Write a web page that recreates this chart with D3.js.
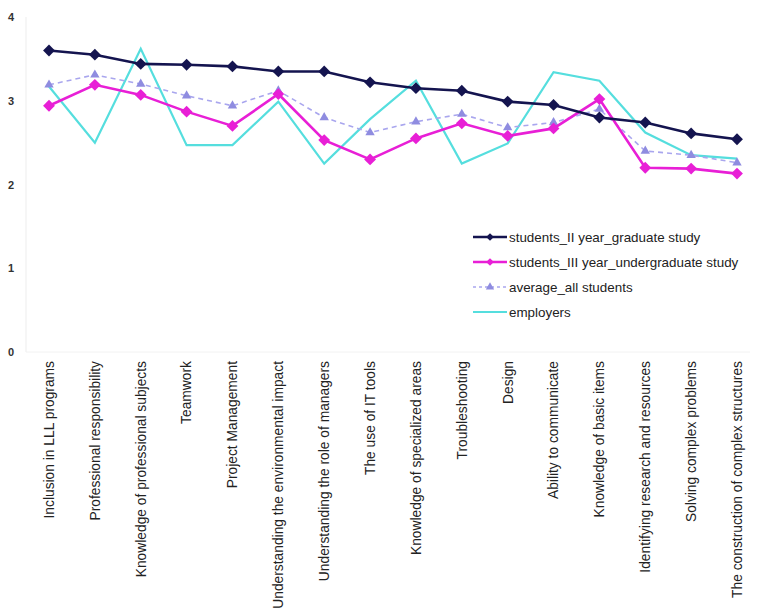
<!DOCTYPE html>
<html><head><meta charset="utf-8">
<script src="https://cdn.jsdelivr.net/npm/d3@7"></script>
<style>body{margin:0;background:#fff;}svg{display:block;font-family:"Liberation Sans",Arial,sans-serif;}</style>
</head><body><svg id="c" width="757" height="616"></svg>
<script>
const categories = ["Inclusion in LLL programs","Professional responsibility","Knowledge of professional subjects","Teamwork","Project Management","Understanding the environmental impact","Understanding the role of managers","The use of IT tools","Knowledge of specialized areas","Troubleshooting","Design","Ability to communicate","Knowledge of basic items","Identifying research and resources","Solving complex problems","The construction of complex structures"];
const graduate = [3.60,3.55,3.44,3.43,3.41,3.35,3.35,3.22,3.15,3.12,2.99,2.95,2.80,2.74,2.61,2.54];
const undergraduate = [2.94,3.19,3.07,2.87,2.70,3.08,2.53,2.30,2.55,2.73,2.58,2.67,3.02,2.20,2.19,2.13];
const averageAll = [3.19,3.31,3.20,3.06,2.94,3.12,2.80,2.62,2.75,2.84,2.68,2.74,2.90,2.40,2.35,2.26];
const employers = [3.17,2.50,3.62,2.47,2.47,2.99,2.25,2.78,3.24,2.25,2.49,3.34,3.24,2.62,2.35,2.31];
const yTicks = [0,1,2,3,4];
const seriesNames = ["students_II year_graduate study","students_III year_undergraduate study","average_all students","employers"];

const svg = d3.select("#c");
const x = d3.scalePoint().domain(categories).range([49,737]);
const y = d3.scaleLinear().domain([0,4]).range([352,17]);

// faint axes
svg.append("line").attr("x1",26).attr("x2",26).attr("y1",y(4)).attr("y2",y(0)).attr("stroke","#ededed");
svg.append("line").attr("x1",26).attr("x2",750).attr("y1",y(0)).attr("y2",y(0)).attr("stroke","#f2f2f2");

const yAxis = d3.axisLeft(y).tickValues(yTicks).tickFormat(d3.format("d")).tickSize(0).tickPadding(0);
const ga = svg.append("g").attr("transform","translate(14,0)").call(yAxis);
ga.select(".domain").remove();
ga.selectAll("text").attr("font-size",11).attr("font-weight","bold").attr("fill","#333").attr("font-family","Liberation Sans, Arial, sans-serif");

// category labels
svg.append("g").selectAll("text").data(categories).join("text")
  .attr("transform",d=>`translate(${x(d)},361) rotate(-90)`)
  .attr("text-anchor","end").attr("dy","0.35em")
  .attr("font-size",13.8).attr("fill","#222").text(d=>d);

const series = [
  {name:seriesNames[3], vals:employers, color:"#55dede", width:2.2, dash:null, marker:null},
  {name:seriesNames[2], vals:averageAll, color:"#a9a6ee", width:1.6, dash:"5,4", marker:"triangle"},
  {name:seriesNames[1], vals:undergraduate, color:"#e81fd6", width:2.6, dash:null, marker:"diamond"},
  {name:seriesNames[0], vals:graduate, color:"#14144f", width:2.6, dash:null, marker:"diamond"}
];
const line = d3.line().x((d,i)=>x(categories[i])).y(d=>y(d));
const sym = {diamond:d3.symbol().type(d3.symbolSquare).size(70), triangle:d3.symbol().type(d3.symbolTriangle).size(38)};

series.forEach(s=>{
  svg.append("path").datum(s.vals).attr("d",line).attr("fill","none")
    .attr("stroke",s.color).attr("stroke-width",s.width).attr("stroke-dasharray",s.dash);
  if(s.marker){
    svg.append("g").selectAll("path").data(s.vals).join("path")
      .attr("transform",(d,i)=>`translate(${x(categories[i])},${y(d)})` + (s.marker==="diamond"?" rotate(45)":""))
      .attr("d",sym[s.marker]()).attr("fill",s.marker==="triangle"?"#8f8ce0":s.color);
  }
});

// legend
const legendOrder = [series[3],series[2],series[1],series[0]];
const lg = svg.append("g");
legendOrder.forEach((s,i)=>{
  const ly = 237 + i*25;
  lg.append("line").attr("x1",473).attr("x2",507).attr("y1",ly).attr("y2",ly)
    .attr("stroke",s.color).attr("stroke-width",s.width).attr("stroke-dasharray",s.dash?"3,3":null);
  if(s.marker){
    lg.append("path").attr("transform",`translate(490,${ly})` + (s.marker==="diamond"?" rotate(45)":""))
      .attr("d",s.marker==="triangle"?d3.symbol().type(d3.symbolTriangle).size(30)():d3.symbol().type(d3.symbolSquare).size(30)())
      .attr("fill",s.marker==="triangle"?"#8f8ce0":s.color);
  }
  lg.append("text").attr("x",509).attr("y",ly).attr("dy","0.35em").attr("font-size",13.4).attr("fill","#222").text(s.name);
});
</script></body></html>
